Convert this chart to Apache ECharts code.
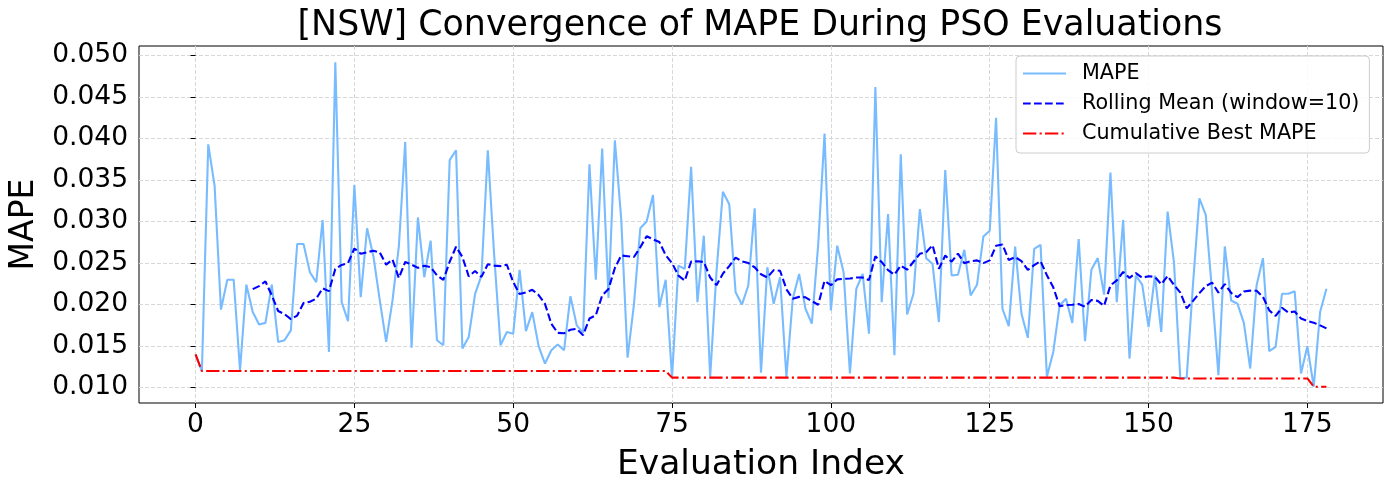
<!DOCTYPE html>
<html>
<head>
<meta charset="utf-8">
<script src="https://cdn.jsdelivr.net/npm/echarts@6/dist/echarts.min.js"></script>
<style>
html,body{margin:0;padding:0;background:#fff;}
#c{width:1389px;height:490px;}
</style>
</head>
<body>
<div id="c"></div>
<script>
const titleText = '[NSW] Convergence of MAPE During PSO Evaluations';
const xTicks = [0, 25, 50, 75, 100, 125, 150, 175];
const yTicks = [0.010, 0.015, 0.020, 0.025, 0.030, 0.035, 0.040, 0.045, 0.050];
const seriesNames = ['MAPE', 'Rolling Mean (window=10)', 'Cumulative Best MAPE'];
const rollingWindow = 10;
// MAPE per evaluation index (0..178)
const mape = [
0.0140,0.0120,0.0393,0.0343,0.0194,0.0230,0.0230,0.0121,0.0224,0.0191,
0.0176,0.0178,0.0224,0.0155,0.0157,0.0169,0.0273,0.0273,0.0239,0.0227,
0.0302,0.0143,0.0492,0.0203,0.0180,0.0344,0.0209,0.0292,0.0258,0.0205,
0.0155,0.0205,0.0270,0.0396,0.0148,0.0305,0.0233,0.0277,0.0157,0.0151,
0.0374,0.0386,0.0147,0.0161,0.0213,0.0235,0.0386,0.0260,0.0151,0.0167,
0.0165,0.0242,0.0168,0.0191,0.0150,0.0129,0.0145,0.0152,0.0145,0.0210,
0.0175,0.0166,0.0369,0.0230,0.0388,0.0208,0.0398,0.0303,0.0136,0.0200,
0.0292,0.0300,0.0332,0.0197,0.0230,0.0112,0.0247,0.0243,0.0366,0.0203,
0.0283,0.0113,0.0240,0.0336,0.0321,0.0215,0.0200,0.0223,0.0316,0.0118,
0.0245,0.0201,0.0233,0.0113,0.0207,0.0237,0.0195,0.0177,0.0272,0.0406,
0.0193,0.0271,0.0239,0.0117,0.0219,0.0237,0.0165,0.0462,0.0203,0.0309,
0.0139,0.0381,0.0188,0.0213,0.0315,0.0256,0.0249,0.0179,0.0362,0.0235,
0.0236,0.0266,0.0211,0.0224,0.0282,0.0289,0.0425,0.0195,0.0174,0.0270,
0.0189,0.0160,0.0267,0.0272,0.0113,0.0143,0.0199,0.0207,0.0178,0.0279,
0.0156,0.0242,0.0256,0.0212,0.0359,0.0203,0.0302,0.0135,0.0235,0.0224,
0.0173,0.0235,0.0167,0.0312,0.0251,0.0111,0.0112,0.0225,0.0328,0.0308,
0.0215,0.0115,0.0270,0.0205,0.0201,0.0178,0.0123,0.0223,0.0256,0.0144,
0.0149,0.0213,0.0213,0.0216,0.0117,0.0150,0.0101,0.0191,0.0219
];

// Derived series (as in the original: rolling mean and running minimum of MAPE)
function rollingMean(arr, w) {
  const out = [];
  for (let i = w - 1; i < arr.length; i++) {
    let s = 0;
    for (let j = i - w + 1; j <= i; j++) s += arr[j];
    out.push([i, s / w]);
  }
  return out;
}
function cumulativeMin(arr) {
  const out = [];
  let m = Infinity;
  arr.forEach((v, i) => { m = Math.min(m, v); out.push([i, m]); });
  return out;
}

const mapeData = mape.map((v, i) => [i, v]);
const rollData = rollingMean(mape, rollingWindow);
const bestData = cumulativeMin(mape);

const n = mape.length - 1;
const xPad = n * 0.05;
const yMin = Math.min(...mape), yMax = Math.max(...mape);
const yPad = (yMax - yMin) * 0.05;

const FONT = 'DejaVu Sans';
const chart = echarts.init(document.getElementById('c'), null, {renderer: 'canvas'});
chart.setOption({
  animation: false,
  backgroundColor: '#ffffff',
  title: {
    text: titleText,
    left: 755, top: 3, textAlign: 'center',
    textStyle: {fontFamily: FONT, fontSize: 34.8, fontWeight: 'normal', color: '#000'}
  },
  grid: {left: 139, right: 6, top: 46, bottom: 87, show: true, borderColor: '#000', borderWidth: 1, backgroundColor: 'transparent'},
  legend: {
    orient: 'vertical',
    left: 1016, top: 56,
    data: seriesNames,
    itemWidth: 43, itemHeight: 14, itemGap: 9,
    padding: [7, 10, 9, 6],
    borderColor: '#cccccc', borderWidth: 1, borderRadius: 4,
    backgroundColor: 'rgba(255,255,255,0.85)',
    itemStyle: {opacity: 0},
    textStyle: {fontFamily: FONT, fontSize: 20.7, color: '#000', padding: [0, 0, 0, 11]}
  },
  xAxis: {
    type: 'value', min: -xPad, max: n + xPad,
    name: 'Evaluation Index', nameLocation: 'middle', nameGap: 45,
    nameTextStyle: {fontFamily: FONT, fontSize: 34.5, color: '#000'},
    axisLine: {show: false},
    axisTick: {show: true, length: 5, lineStyle: {color: '#000', width: 1}, customValues: xTicks},
    axisLabel: {fontFamily: FONT, fontSize: 26.5, color: '#000', margin: 9, customValues: xTicks, formatter: v => String(Math.round(v))},
    splitLine: {show: true, lineStyle: {color: '#d8d8d8', type: [4, 2], width: 1}}
  },
  yAxis: {
    type: 'value', min: yMin - yPad, max: yMax + yPad,
    name: 'MAPE', nameLocation: 'middle', nameGap: 87,
    nameTextStyle: {fontFamily: FONT, fontSize: 33, color: '#000'},
    axisLine: {show: false},
    axisTick: {show: true, length: 5, lineStyle: {color: '#000', width: 1}, customValues: yTicks},
    axisLabel: {fontFamily: FONT, fontSize: 26.5, color: '#000', margin: 11, customValues: yTicks, formatter: v => v.toFixed(3)},
    splitLine: {show: true, lineStyle: {color: '#d8d8d8', type: [4, 2], width: 1}}
  },
  series: [
    {name: seriesNames[0], type: 'line', data: mapeData, symbol: 'none', lineStyle: {color: '#78bcff', width: 2.1}, itemStyle: {color: '#78bcff'}, z: 2},
    {name: seriesNames[1], type: 'line', data: rollData, symbol: 'none', lineStyle: {color: '#0000ff', width: 2.1, type: [7.7, 3.3]}, itemStyle: {color: '#0000ff'}, z: 3},
    {name: seriesNames[2], type: 'line', data: bestData, symbol: 'none', lineStyle: {color: '#ff0000', width: 2.1, type: [13.3, 3.3, 2.1, 3.3]}, itemStyle: {color: '#ff0000'}, z: 4}
  ]
});
</script>
</body>
</html>
